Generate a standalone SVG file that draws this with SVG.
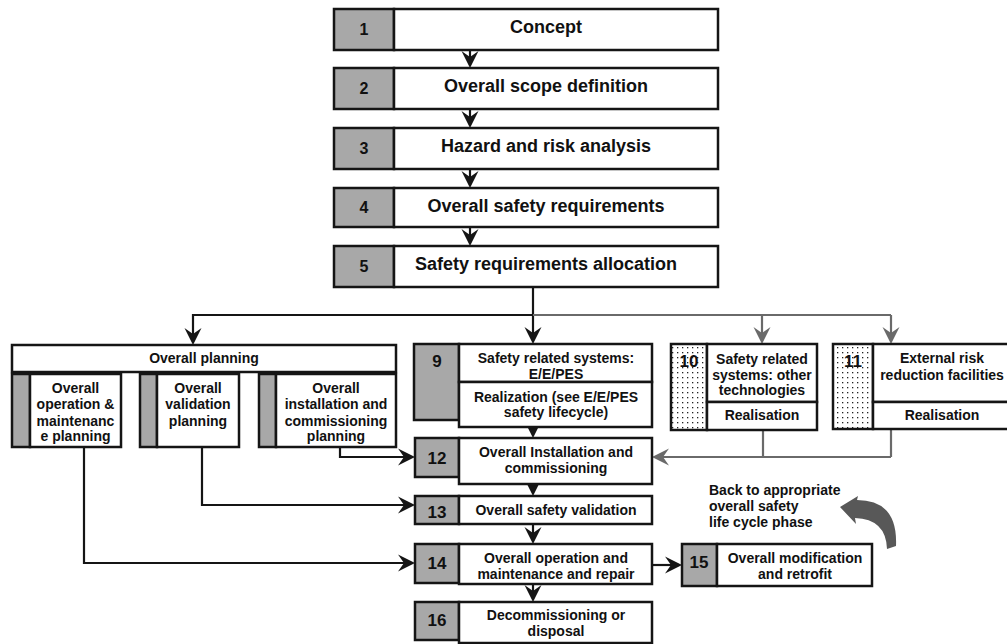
<svg xmlns="http://www.w3.org/2000/svg" width="1007" height="644" viewBox="0 0 1007 644">
<style>
text{font-family:"Liberation Sans",Arial,sans-serif;font-weight:bold;fill:#111;text-anchor:middle}
.t{font-size:18px}
.n{font-size:16px}
.s{font-size:14px}
.m{font-size:17px}
.g{fill:#a8a8a8;stroke:#151515;stroke-width:2.5}
.w{fill:#fff;stroke:#151515;stroke-width:2.5}
.d{fill:url(#dots);stroke:#151515;stroke-width:2.5}
.c{fill:none;stroke:#151515;stroke-width:2.2;marker-end:url(#ah)}
.cl{fill:none;stroke:#151515;stroke-width:2.2}
.cg{fill:none;stroke:#6a6a6a;stroke-width:2.2;marker-end:url(#ahg)}
.cgl{fill:none;stroke:#6a6a6a;stroke-width:2.2}
</style>
<defs>
<marker id="ah" viewBox="-20 -10 22 20" refX="-3" refY="0" markerWidth="22" markerHeight="20" markerUnits="userSpaceOnUse" orient="auto"><path d="M0 0 L-17 -8.5 L-11 0 L-17 8.5 Z" fill="#151515"/></marker>
<marker id="ahg" viewBox="-20 -10 22 20" refX="-3" refY="0" markerWidth="22" markerHeight="20" markerUnits="userSpaceOnUse" orient="auto"><path d="M0 0 L-17 -8.5 L-11 0 L-17 8.5 Z" fill="#6a6a6a"/></marker>
<pattern id="dots" width="5" height="5" patternUnits="userSpaceOnUse"><rect width="5" height="5" fill="#fff"/><rect x="2" y="2" width="1.3" height="1.3" fill="#222"/></pattern>
</defs>
<rect width="1007" height="644" fill="#fff"/>

<g id="connectors">
<path class="c" d="M470 50 V65"/>
<path class="c" d="M470 109 V125"/>
<path class="c" d="M470 169 V185"/>
<path class="c" d="M470 227 V243"/>
<path class="c" d="M533 287 V341"/>
<path class="c" d="M533 315 H193 V342"/>
<path class="cgl" d="M533 315 H891"/>
<path class="cg" d="M891 315 V341"/>
<path class="cg" d="M762 315 V341"/>
<path class="c" d="M340 447 V457 H412"/>
<path class="c" d="M202 447 V505 H412"/>
<path class="c" d="M84 447 V563 H412"/>
<path class="cgl" d="M763 430 V457 M891 429 V457"/>
<path class="cg" d="M891 457 H655"/>
<path class="c" d="M533 427 V435"/>
<path class="c" d="M533 484 V493"/>
<path class="c" d="M533 524 V541"/>
<path class="c" d="M533 584 V599"/>
<path class="c" d="M652 565 H679"/>
</g>

<g id="n1"><rect class="g" x="334" y="9" width="60" height="41"/><rect class="w" x="394" y="9" width="324" height="41"/><text class="n" x="364" y="35">1</text><text class="t" x="546" y="33">Concept</text></g>
<g id="n2"><rect class="g" x="334" y="68" width="60" height="41"/><rect class="w" x="394" y="68" width="324" height="41"/><text class="n" x="364" y="94">2</text><text class="t" x="546" y="92">Overall scope definition</text></g>
<g id="n3"><rect class="g" x="334" y="128" width="60" height="41"/><rect class="w" x="394" y="128" width="324" height="41"/><text class="n" x="364" y="154">3</text><text class="t" x="546" y="152">Hazard and risk analysis</text></g>
<g id="n4"><rect class="g" x="334" y="188" width="60" height="39"/><rect class="w" x="394" y="188" width="324" height="39"/><text class="n" x="364" y="213">4</text><text class="t" x="546" y="212">Overall safety requirements</text></g>
<g id="n5"><rect class="g" x="334" y="246" width="60" height="41"/><rect class="w" x="394" y="246" width="324" height="41"/><text class="n" x="364" y="272">5</text><text class="t" x="546" y="270">Safety requirements allocation</text></g>

<g id="planning">
<rect class="w" x="12" y="345" width="384" height="27"/>
<text class="s" x="204" y="363">Overall planning</text>
</g>
<g id="plan-om"><rect class="g" x="12" y="374" width="18" height="73"/><rect class="w" x="30" y="374" width="91" height="73"/>
<text class="s" x="75.5" y="393">Overall</text><text class="s" x="75.5" y="409">operation &amp;</text><text class="s" x="75.5" y="426">maintenanc</text><text class="s" x="75.5" y="441">e planning</text></g>
<g id="plan-val"><rect class="g" x="140" y="374" width="17" height="73"/><rect class="w" x="157" y="374" width="82" height="73"/>
<text class="s" x="198" y="393">Overall</text><text class="s" x="198" y="409">validation</text><text class="s" x="198" y="426">planning</text></g>
<g id="plan-inst"><rect class="g" x="259" y="374" width="17" height="73"/><rect class="w" x="276" y="374" width="120" height="73"/>
<text class="s" x="336" y="393">Overall</text><text class="s" x="336" y="409">installation and</text><text class="s" x="336" y="426">commissioning</text><text class="s" x="336" y="441">planning</text></g>

<g id="n9"><rect class="g" x="414" y="344" width="45" height="76"/><rect class="w" x="459" y="344" width="193" height="38"/><rect class="w" x="459" y="382" width="193" height="45"/>
<text class="m" x="437" y="367">9</text>
<text class="s" x="556" y="363">Safety related systems:</text><text class="s" x="556" y="379">E/E/PES</text>
<text class="s" x="556" y="402">Realization (see E/E/PES</text><text class="s" x="556" y="417">safety lifecycle)</text></g>

<g id="n10"><rect class="d" x="671" y="344" width="36" height="86"/><rect class="w" x="707" y="344" width="110" height="58"/><rect class="w" x="707" y="402" width="110" height="28"/>
<text class="m" x="689" y="367">10</text>
<text class="s" x="762" y="364">Safety related</text><text class="s" x="762" y="380">systems: other</text><text class="s" x="762" y="395">technologies</text>
<text class="s" x="762" y="420">Realisation</text></g>

<g id="n11"><rect class="d" x="833" y="344" width="40" height="85"/><rect class="w" x="873" y="344" width="140" height="58"/><rect class="w" x="873" y="402" width="140" height="27"/>
<text class="m" x="853" y="367">11</text>
<text class="s" x="942" y="363">External risk</text><text class="s" x="942" y="380">reduction facilities</text>
<text class="s" x="942" y="420">Realisation</text></g>

<g id="n12"><rect class="g" x="415" y="438" width="44" height="39"/><rect class="w" x="459" y="438" width="193" height="46"/>
<text class="m" x="437" y="464">12</text><text class="s" x="556" y="457">Overall Installation and</text><text class="s" x="556" y="473">commissioning</text></g>
<g id="n13"><rect class="g" x="415" y="496" width="44" height="28"/><rect class="w" x="459" y="496" width="193" height="28"/>
<text class="m" x="437" y="518">13</text><text class="s" x="556" y="515">Overall safety validation</text></g>
<g id="n14"><rect class="g" x="415" y="544" width="44" height="39"/><rect class="w" x="459" y="544" width="193" height="40"/>
<text class="m" x="437" y="569">14</text><text class="s" x="556" y="563">Overall operation and</text><text class="s" x="556" y="579">maintenance and repair</text></g>
<g id="n15"><rect class="g" x="682" y="544" width="35" height="42"/><rect class="w" x="717" y="544" width="155" height="42"/>
<text class="m" x="699" y="568">15</text><text class="s" x="795" y="563">Overall modification</text><text class="s" x="795" y="579">and retrofit</text></g>
<g id="n16"><rect class="g" x="415" y="602" width="44" height="38"/><rect class="w" x="459" y="602" width="193" height="41"/>
<text class="m" x="437" y="626">16</text><text class="s" x="556" y="620">Decommissioning or</text><text class="s" x="556" y="636">disposal</text></g>

<g id="back">
<text class="s" x="709" y="495" style="text-anchor:start">Back to appropriate</text>
<text class="s" x="709" y="511" style="text-anchor:start">overall safety</text>
<text class="s" x="709" y="527" style="text-anchor:start">life cycle phase</text>
<path d="M840 507 L858 496 L857 500 Q898 500 896 546 L887 549 Q886 519 855 518 L856 524 Z" fill="#585858"/>
</g>
</svg>
